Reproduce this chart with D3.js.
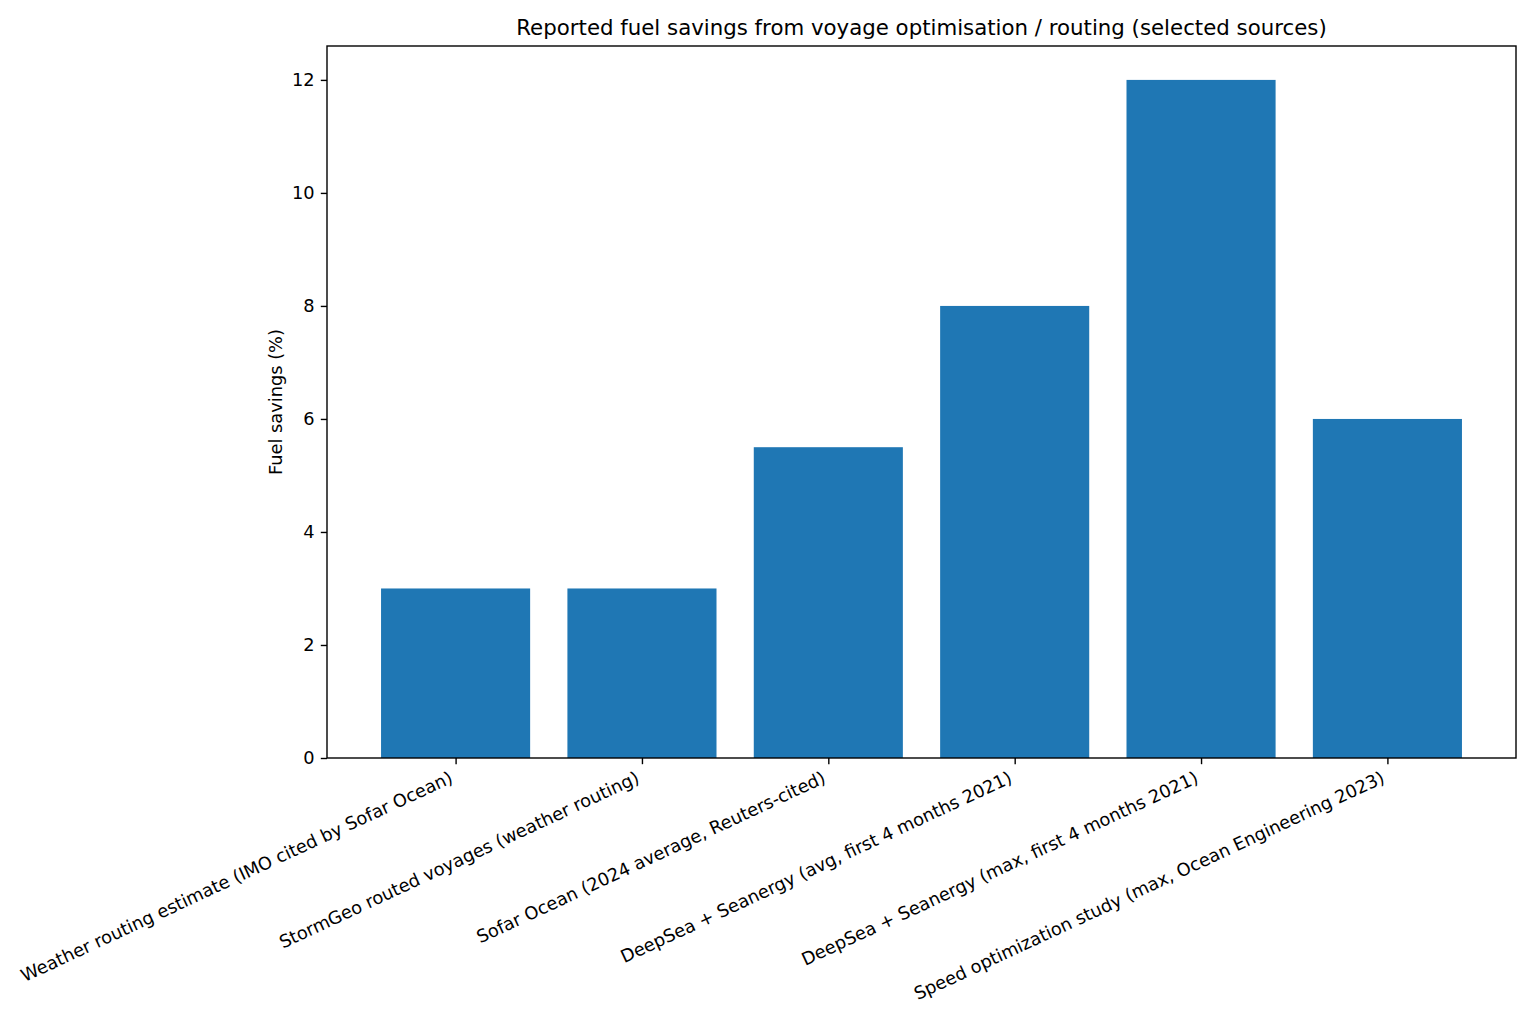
<!DOCTYPE html>
<html>
<head>
<meta charset="utf-8">
<script src="https://cdn.jsdelivr.net/npm/d3@7"></script>
<style>
  body { margin: 0; background: #fff; }
  svg { font-family: "DejaVu Sans", sans-serif; }
</style>
</head>
<body>
<svg width="1536" height="1024"></svg>
<script>
// data
var sources = [
    "Weather routing estimate (IMO cited by Sofar Ocean)",
    "StormGeo routed voyages (weather routing)",
    "Sofar Ocean (2024 average, Reuters-cited)",
    "DeepSea + Seanergy (avg, first 4 months 2021)",
    "DeepSea + Seanergy (max, first 4 months 2021)",
    "Speed optimization study (max, Ocean Engineering 2023)"
];
var savings = [3, 3, 5.5, 8, 12, 6];
var yTicks = [0, 2, 4, 6, 8, 10, 12];

var svg = d3.select("svg");
var plotLeft = 327, plotRight = 1516, plotTop = 46, plotBottom = 758;

// matplotlib style: bars of width 0.8 on integer positions, 5% margins
var x = d3.scaleLinear().domain([-0.69, sources.length - 1 + 0.69]).range([plotLeft, plotRight]);
var y = d3.scaleLinear().domain([0, 12.6]).range([plotBottom, plotTop]);

svg.selectAll("rect.bar")
    .data(savings)
    .enter().append("rect")
    .attr("class", "bar")
    .attr("x", function(d, i) { return x(i - 0.4); })
    .attr("width", function(d, i) { return x(i + 0.4) - x(i - 0.4); })
    .attr("y", function(d) { return y(d); })
    .attr("height", function(d) { return y(0) - y(d); })
    .style("fill", "#1f77b4");

// y axis
var yAxis = svg.append("g")
    .attr("transform", "translate(" + plotLeft + ",0)")
    .call(d3.axisLeft(y).tickValues(yTicks).tickSize(6.2).tickPadding(6.2).tickFormat(d3.format("d")));
yAxis.select(".domain").remove();
yAxis.selectAll("line").attr("stroke", "#000").attr("stroke-width", 1.4);
yAxis.selectAll("text").attr("font-size", "17.8px").attr("fill", "#000")
    .attr("font-family", "DejaVu Sans");

// x axis ticks, labels turned 25 degrees and right-aligned on the tick
var xAxis = svg.append("g")
    .attr("transform", "translate(0," + plotBottom + ")")
    .call(d3.axisBottom(x).tickValues(d3.range(sources.length)).tickSize(6.2).tickFormat(function(d) { return sources[d]; }));
xAxis.select(".domain").remove();
xAxis.selectAll("line").attr("stroke", "#000").attr("stroke-width", 1.4);
xAxis.selectAll("text")
    .attr("font-size", "17.8px")
    .attr("fill", "#000")
    .attr("font-family", "DejaVu Sans")
    .attr("text-anchor", "end")
    .attr("y", 0).attr("dy", 0)
    .attr("transform", "translate(-2,24) rotate(-25)");

// frame
svg.append("rect")
    .attr("x", plotLeft).attr("y", plotTop)
    .attr("width", plotRight - plotLeft).attr("height", plotBottom - plotTop)
    .style("fill", "none").style("stroke", "#000").style("stroke-width", 1.4);

svg.append("text")
    .attr("x", (plotLeft + plotRight) / 2).attr("y", 35)
    .attr("text-anchor", "middle")
    .attr("font-size", "21.3px")
    .text("Reported fuel savings from voyage optimisation / routing (selected sources)");

svg.append("text")
    .attr("transform", "translate(282," + (plotTop + plotBottom) / 2 + ") rotate(-90)")
    .attr("text-anchor", "middle")
    .attr("font-size", "17.8px")
    .text("Fuel savings (%)");
</script>
</body>
</html>
